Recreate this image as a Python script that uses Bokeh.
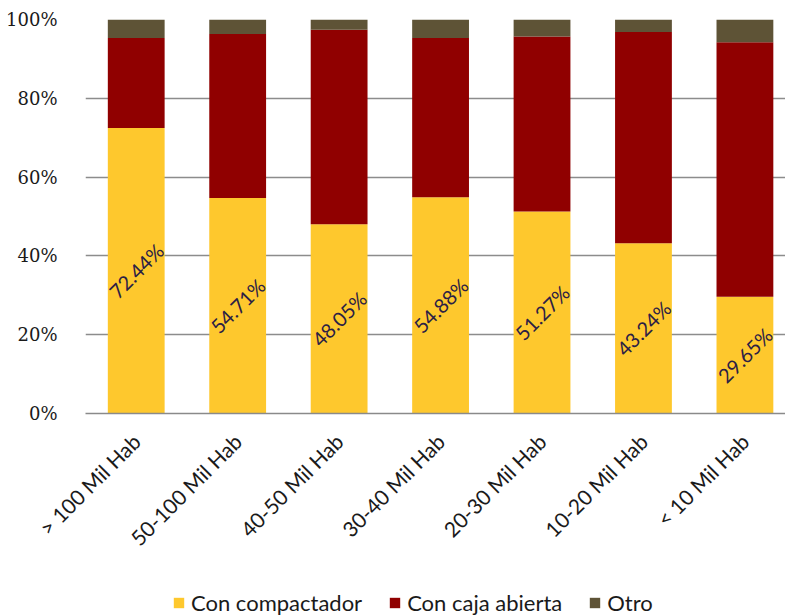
from math import pi

from bokeh.plotting import figure
from bokeh.layouts import column
from bokeh.models import (ColumnDataSource, Range1d, FixedTicker, Legend,
                          LegendItem)
from bokeh.core.properties import value
from bokeh.embed import file_html
from bokeh.resources import INLINE

# Population-size groups
categories = ["> 100 Mil Hab", "50-100 Mil Hab", "40-50 Mil Hab",
              "30-40 Mil Hab", "20-30 Mil Hab", "10-20 Mil Hab",
              "< 10 Mil Hab"]

# Share of each collection type (%)
con_compactador = [72.44, 54.71, 48.05, 54.88, 51.27, 43.24, 29.65]
con_caja_abierta = [22.86, 41.59, 49.35, 40.42, 44.43, 53.56, 64.55]
otro = [4.70, 3.70, 2.60, 4.70, 4.30, 3.20, 5.80]

series = ["Con compactador", "Con caja abierta", "Otro"]
colors = ["#FEC82D", "#900000", "#5E5336"]

y_ticks = [0, 20, 40, 60, 80, 100]

idx = list(range(len(categories)))
source = ColumnDataSource(data=dict(
    x=idx,
    comp=con_compactador,
    caja=con_caja_abierta,
    otro=otro,
    label_y=[v / 2 for v in con_compactador],
    label=[f"{v:.2f}%" for v in con_compactador],
))

p = figure(width=785, height=580, output_backend="svg", toolbar_location=None,
           x_range=Range1d(-0.5, 6.4), y_range=Range1d(0, 100),
           min_border_left=85, min_border_right=0, min_border_top=19,
           min_border_bottom=167)
p.outline_line_color = None
p.background_fill_color = "white"
p.border_fill_color = "white"

p.vbar_stack(["comp", "caja", "otro"], x="x", width=0.56,
             color=colors, line_color=None, source=source)

p.text(x="x", y="label_y", text="label", source=source, angle=pi / 4,
       text_align="center", text_baseline="middle",
       text_font=value("Lato"), text_font_size="20px",
       text_color="#2B2045")

# Axes
p.xaxis.ticker = FixedTicker(ticks=idx)
p.xaxis.major_label_overrides = {i: c for i, c in zip(idx, categories)}
p.xaxis.major_label_orientation = pi / 4
p.xaxis.major_label_text_font = "Lato"
p.xaxis.major_label_text_font_size = "21px"
p.xaxis.major_label_text_color = "#1a1a1a"
p.xaxis.major_label_standoff = 18
p.xaxis.major_tick_line_color = None
p.xaxis.minor_tick_line_color = None
p.xaxis.axis_line_color = "#8a8a8a"
p.xaxis.axis_line_width = 1.5

p.yaxis.ticker = FixedTicker(ticks=y_ticks)
p.yaxis.major_label_overrides = {t: f"{t}%" for t in y_ticks}
p.yaxis.major_label_text_font = "DejaVu Serif"
p.yaxis.major_label_text_font_size = "18px"
p.yaxis.major_label_text_color = "#1a1a1a"
p.yaxis.major_label_standoff = 22
p.yaxis.major_tick_line_color = None
p.yaxis.minor_tick_line_color = None
p.yaxis.axis_line_color = None

p.xgrid.grid_line_color = None
p.ygrid.grid_line_color = "#8c8c8c"
p.ygrid.grid_line_width = 1.5

# Legend strip under the chart: one swatch renderer per series,
# each holding a single point placed below the strip's visible range
leg = figure(width=785, height=36, output_backend="svg", toolbar_location=None,
             x_range=Range1d(0, 1), y_range=Range1d(0, 1),
             min_border=0, outline_line_color=None,
             background_fill_color="white", border_fill_color="white")
leg.axis.visible = False
leg.grid.visible = False
swatches = [leg.vbar(x=[0.5], bottom=[-6], top=[-5], width=0.1,
                     fill_color=c, line_color=None)
            for c in colors]

legend = Legend(
    items=[LegendItem(label=s, renderers=[r]) for s, r in zip(series, swatches)],
    orientation="horizontal",
    location=(87, 0),
    glyph_width=13, glyph_height=13,
    label_standoff=6, spacing=26, padding=0, margin=0,
    label_text_font="Lato", label_text_font_size="22px",
    label_text_color="#1a1a1a",
    border_line_color=None, background_fill_alpha=0,
)
leg.add_layout(legend, "center")

layout = column(p, leg, spacing=0)
open("out.html", "w").write(file_html(layout, INLINE))
